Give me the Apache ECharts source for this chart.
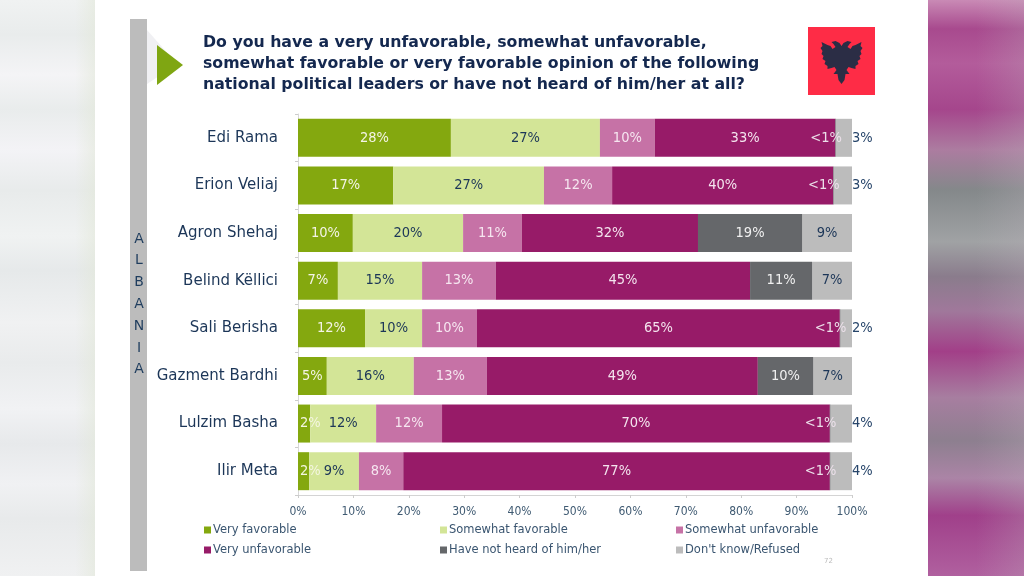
<!DOCTYPE html>
<html>
<head>
<meta charset="utf-8">
<style>html,body{margin:0;padding:0;background:#fff}#c{width:1024px;height:576px;filter:blur(0.55px)}</style>
<script src="https://cdn.jsdelivr.net/npm/echarts@6/dist/echarts.min.js"></script>
</head>
<body>
<div id="c"></div>
<script>
const categories = ['Edi Rama','Erion Veliaj','Agron Shehaj','Belind Këllici','Sali Berisha','Gazment Bardhi','Lulzim Basha','Ilir Meta'];
const seriesNames = ['Very favorable','Somewhat favorable','Somewhat unfavorable','Very unfavorable','Have not heard of him/her',"Don't know/Refused"];
const veryFav   = [27.6,17.2,9.9,7.2,12.1,5.2,2.2,2.0];
const someFav   = [26.9,27.2,19.9,15.2,10.3,15.7,11.9,9.0];
const someUnfav = [9.9,12.3,10.6,13.3,9.9,13.2,11.9,8.0];
const veryUnfav = [32.6,39.9,31.8,45.9,65.5,48.9,70.0,77.0];
const notHeard  = [0.1,0.1,18.8,11.2,0.1,10.0,0.1,0.1];
const dontKnow  = [2.9,3.3,9.0,7.2,2.1,7.0,3.9,3.9];
const veryFavLabels   = ['28%','17%','10%','7%','12%','5%','2%','2%'];
const someFavLabels   = ['27%','27%','20%','15%','10%','16%','12%','9%'];
const someUnfavLabels = ['10%','12%','11%','13%','10%','13%','12%','8%'];
const veryUnfavLabels = ['33%','40%','32%','45%','65%','49%','70%','77%'];
const notHeardLabels  = ['<1%','<1%','19%','11%','<1%','10%','<1%','<1%'];
const dontKnowLabels  = ['3%','3%','9%','7%','2%','7%','4%','4%'];
const xTicks = [0,10,20,30,40,50,60,70,80,90,100];
const titleLines = ['Do you have a very unfavorable, somewhat unfavorable,','somewhat favorable or very favorable opinion of the following','national political leaders or have not heard of him/her at all?'];
const sideLetters = ['A','L','B','A','N','I','A'];

const COND = '"DejaVu Sans Condensed","DejaVu Sans",sans-serif';
const SANS = '"DejaVu Sans",sans-serif';
const NAVY = '#1c3658';
const colors = ['#84a80f','#d3e597','#c672a6','#971b68','#65676a','#bcbcbc'];
const textColors = ['#f4f4e6','#1c3658','#f6e6f0','#f4e4ee','#f0f0f0','#1c3658'];
const values = [veryFav,someFav,someUnfav,veryUnfav,notHeard,dontKnow];
const labels = [veryFavLabels,someFavLabels,someUnfavLabels,veryUnfavLabels,notHeardLabels,dontKnowLabels];

function dataFor(si){
  return values[si].map((v)=>{
    const item = {value:v};
    if(si===4 && v < 1) item.label = {position:'insideRight',distance:-6,color:'#ece0ea',fontFamily:COND,fontSize:14.5};
    if(si===5 && v < 5) item.label = {position:'right',distance:0,color:'#27456a'};
    if(si===0 && v < 3) item.label = {position:'insideLeft',distance:2,color:'#f4f6e0'};
    return item;
  });
}
const series = seriesNames.map((n,si)=>({
  name:n,type:'bar',stack:'total',barWidth:38,
  itemStyle:{color:colors[si]},
  label:{show:true,position:'inside',fontFamily:COND,fontSize:14.5,color:textColors[si],
    formatter:p=>labels[si][p.dataIndex]},
  data:dataFor(si),z:si===5?2:3
}));

const legendBase = {orient:'vertical',itemWidth:7,itemHeight:7,itemGap:8,icon:'rect',
  textStyle:{fontFamily:SANS,fontSize:11.5,color:'#3a5570',padding:[0,0,0,-3]}};

const half = [[0,46],[2,43],[6,41],[10,42],[8,44],[6,47],[9,49],[11,46],[14,45],[20,42],[19,46],[21,48],[19,51],[20,54],[18,56],[19,59],[16,61],[17,64],[14,66],[14,69],[10,68],[7,67],[5,70],[8,74],[4,74],[3,80],[0,84]];
const eagle = half.map(p=>[841.5+p[0],p[1]]).concat(half.slice().reverse().map(p=>[841.5-p[0],p[1]]));

const rightStops = [[0,'#c98ab5'],[.05,'#a84a8e'],[.11,'#b35c9b'],[.19,'#a5468c'],[.26,'#ac7ca0'],[.33,'#84888a'],[.42,'#a0a2a4'],[.48,'#8a7c8c'],[.54,'#a0789b'],[.61,'#a23f88'],[.69,'#a77ea0'],[.765,'#8d7f8f'],[.83,'#ab84a6'],[.895,'#a0408a'],[1,'#b0609f']];
const leftStops = [[0,'#f0f2f2'],[.06,'#e9ecec'],[.13,'#f4f4f6'],[.19,'#e9ecec'],[.26,'#f3f3f6'],[.33,'#e8ebeb'],[.41,'#f0f2f2'],[.47,'#e6e9ea'],[.56,'#f0f1f2'],[.63,'#e9ebec'],[.71,'#f1f2f4'],[.77,'#e7e9eb'],[.84,'#f0f1f3'],[.9,'#e8eaeb'],[1,'#f0f1f2']];
const grad = (s)=>new echarts.graphic.LinearGradient(0,0,0,1,s.map(a=>({offset:a[0],color:a[1]})));

const graphic = [
  {type:'rect',silent:true,z:-10,shape:{x:0,y:0,width:95,height:576},style:{fill:grad(leftStops)}},
  {type:'rect',silent:true,z:-9,shape:{x:75,y:0,width:20,height:576},style:{fill:new echarts.graphic.LinearGradient(0,0,1,0,[{offset:0,color:'rgba(226,232,216,0)'},{offset:1,color:'rgba(226,232,216,0.55)'}])}},
  {type:'rect',silent:true,z:-10,shape:{x:928,y:0,width:96,height:576},style:{fill:grad(rightStops)}},
  {type:'rect',silent:true,z:-9,shape:{x:976,y:0,width:48,height:576},style:{fill:new echarts.graphic.LinearGradient(0,0,1,0,[{offset:0,color:'rgba(190,180,190,0)'},{offset:1,color:'rgba(190,180,190,0.25)'}])}},
  {type:'rect',silent:true,z:-8,shape:{x:130,y:19,width:17,height:552},style:{fill:'#bcbcbc'}},
  {type:'polygon',silent:true,z:-8,shape:{points:[[147,30],[177,64],[147,84]]},style:{fill:'#f0f0f3'}},
  {type:'polygon',silent:true,z:-7,shape:{points:[[157,45],[183,65],[157,85]]},style:{fill:'#7fa612'}},
  {type:'text',silent:true,z:5,style:{x:139,y:228,text:sideLetters.join('\n'),fontFamily:SANS,fontSize:14,lineHeight:21.8,fill:'#1f3d5e',align:'center',verticalAlign:'top'}},
  {type:'rect',silent:true,z:-7,shape:{x:808,y:27,width:67,height:68},style:{fill:'#fe2c46'}},
  {type:'polygon',silent:true,z:-6,shape:{points:eagle},style:{fill:'#2b2d45'}},
  {type:'text',silent:true,z:5,style:{x:824,y:558,text:'72',fontFamily:SANS,fontSize:7,fill:'#bbbbbb'}}
].concat(titleLines.map((t,i)=>({type:'text',silent:true,z:5,style:{x:203,y:35+i*21,text:t,fontFamily:SANS,fontWeight:'bold',fontSize:15.75,fill:'#14284f'}})));

const chart = echarts.init(document.getElementById('c'));
chart.setOption({
  animation:false,
  backgroundColor:'#ffffff',
  grid:{left:298,right:172,top:114,height:381,containLabel:false},
  legend:[
    Object.assign({},legendBase,{left:199,top:519,data:[seriesNames[0],seriesNames[3]]}),
    Object.assign({},legendBase,{left:435,top:519,data:[seriesNames[1],seriesNames[4]]}),
    Object.assign({},legendBase,{left:671,top:519,data:[seriesNames[2],seriesNames[5]]})
  ],
  xAxis:{type:'value',min:0,max:100,interval:10,
    splitLine:{show:false},
    axisLine:{show:true,lineStyle:{color:'#d4d4d4'}},
    axisTick:{show:true,length:3,lineStyle:{color:'#cccccc'}},
    axisLabel:{margin:11,fontFamily:COND,fontSize:12,color:'#3f5a72',
      customValues:xTicks,formatter:v=>v+'%'}},
  yAxis:{type:'category',inverse:true,data:categories,
    axisLine:{show:true,lineStyle:{color:'#d8d8d8'}},
    axisTick:{show:true,length:3,lineStyle:{color:'#cccccc'}},
    axisLabel:{margin:20,fontFamily:SANS,fontSize:15,color:NAVY}},
  graphic:graphic,
  series:series
});
</script>
</body>
</html>
